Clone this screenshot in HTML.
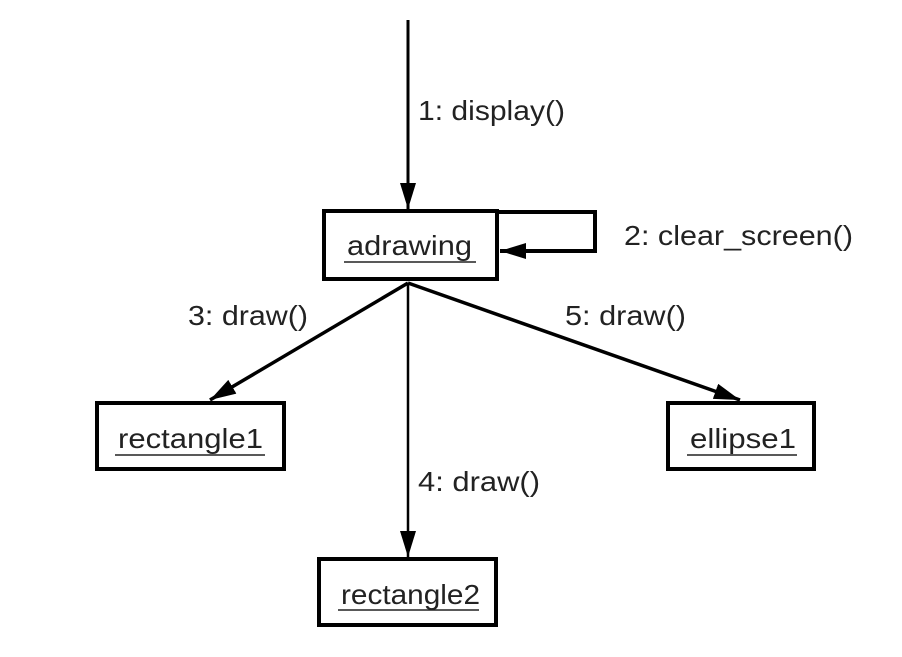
<!DOCTYPE html>
<html><head><style>body{margin:0;background:#fff}</style></head><body>
<svg width="902" height="652" viewBox="0 0 902 652" xmlns="http://www.w3.org/2000/svg" font-family="Liberation Sans, sans-serif" font-size="28" fill="#222">
<defs>
<marker id="b" markerWidth="26" markerHeight="16" refX="26" refY="8" orient="auto" markerUnits="userSpaceOnUse" viewBox="0 0 26 16"><path d="M0,0 L26,8 L0,16 z" fill="#000"/></marker></defs>
<g stroke="#000" fill="none">
<line x1="408" y1="20" x2="408" y2="209" stroke-width="3" marker-end="url(#b)"/>
<rect x="324" y="211" width="173" height="68" stroke-width="4" fill="#fff"/>
<polyline points="497,212 595,212 595,251 500,251" stroke-width="4" marker-end="url(#b)"/>
<line x1="408" y1="283" x2="210" y2="400" stroke-width="3.5" marker-end="url(#b)"/>
<line x1="408" y1="283" x2="740" y2="400" stroke-width="3.5" marker-end="url(#b)"/>
<line x1="408" y1="283" x2="408" y2="557" stroke-width="2.5" marker-end="url(#b)"/>
<rect x="97" y="403" width="187" height="66" stroke-width="4" fill="#fff"/>
<rect x="668" y="403" width="146" height="66" stroke-width="4" fill="#fff"/>
<rect x="319" y="559" width="177" height="66" stroke-width="4" fill="#fff"/>
</g>
<g>
<text x="347" y="255" textLength="125" lengthAdjust="spacingAndGlyphs">adrawing</text>
<text x="118" y="448" textLength="145" lengthAdjust="spacingAndGlyphs">rectangle1</text>
<text x="690" y="448" textLength="106" lengthAdjust="spacingAndGlyphs">ellipse1</text>
<text x="341" y="604" textLength="139" lengthAdjust="spacingAndGlyphs">rectangle2</text>
<text x="418" y="120" textLength="147" lengthAdjust="spacingAndGlyphs">1: display()</text>
<text x="624" y="245" textLength="229" lengthAdjust="spacingAndGlyphs">2: clear_screen()</text>
<text x="188" y="325" textLength="120" lengthAdjust="spacingAndGlyphs">3: draw()</text>
<text x="418" y="491" textLength="122" lengthAdjust="spacingAndGlyphs">4: draw()</text>
<text x="565" y="325" textLength="121" lengthAdjust="spacingAndGlyphs">5: draw()</text>
</g>
<g stroke="#222" stroke-width="1.5">
<line x1="344" y1="262" x2="476" y2="262"/>
<line x1="115" y1="455" x2="265" y2="455"/>
<line x1="687" y1="455" x2="797" y2="455"/>
<line x1="338" y1="610" x2="479" y2="610"/>
</g>
</svg>
</body></html>
